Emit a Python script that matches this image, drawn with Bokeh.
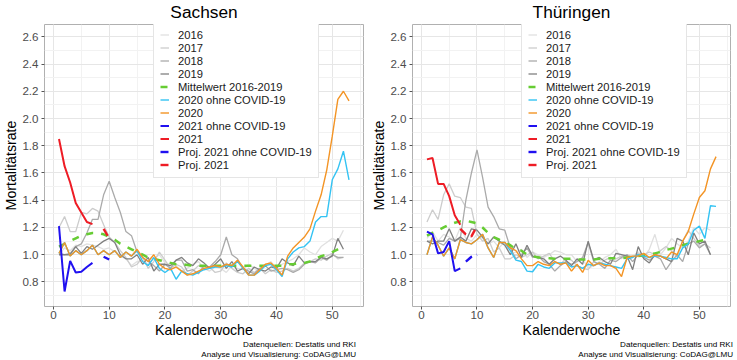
from bokeh.plotting import figure
from bokeh.layouts import row, column
from bokeh.models import (Legend, LegendItem, SingleIntervalTicker, Range1d,
                          PrintfTickFormatter, Div)
from bokeh.embed import file_html
from bokeh.resources import INLINE

weeks52 = list(range(1, 53))
weeks53 = list(range(1, 54))
weeks21 = list(range(1, 8))

# ---------------- Sachsen ----------------
sn_2016 = [1.00, 1.05, 1.03, 1.07, 1.06, 1.08, 1.07, 1.06, 1.04, 1.05,
           1.02, 0.99, 0.97, 0.92, 0.95, 0.96, 0.93, 0.97, 1.00, 0.94,
           0.93, 0.92, 0.88, 0.90, 0.93, 0.95, 0.90, 0.88, 0.91, 0.90,
           0.87, 0.92, 0.90, 0.89, 0.93, 0.90, 0.88, 0.92, 0.95, 0.90,
           0.93, 0.95, 0.97, 1.00, 1.05, 1.02, 1.00, 1.06, 1.09, 1.12,
           1.10, 1.18]
sn_2017 = [1.20, 1.28, 1.17, 1.17, 1.31, 1.30, 1.34, 1.32, 1.22, 1.13,
           1.09, 1.03, 0.98, 0.91, 0.93, 0.98, 0.90, 0.95, 1.02, 0.96,
           0.90, 0.93, 0.91, 0.85, 0.88, 0.92, 0.90, 0.91, 0.87, 0.88,
           0.94, 0.90, 0.87, 0.86, 0.90, 0.87, 0.90, 0.86, 0.89, 0.87,
           0.88, 0.90, 0.88, 0.90, 0.94, 0.95, 0.97, 0.96, 0.99, 1.01,
           0.97, 0.98]
sn_2018 = [1.01, 1.00, 1.01, 1.06, 1.08, 1.16, 1.26, 1.26, 1.44, 1.54,
           1.42, 1.31, 1.17, 1.14, 1.02, 0.98, 0.95, 0.92, 0.88, 0.93,
           0.90, 0.96, 0.96, 0.88, 0.89, 0.86, 0.92, 0.91, 0.95, 1.00,
           1.13, 1.00, 0.97, 0.90, 0.88, 0.86, 0.90, 0.92, 0.88, 0.89,
           0.90, 0.89, 0.87, 0.89, 0.93, 0.95, 0.94, 0.98, 0.96, 1.00,
           0.98, 0.98]
sn_2019 = [1.00, 1.00, 1.00, 1.06, 1.01, 1.06, 1.04, 1.07, 1.10, 1.12,
           1.09, 1.00, 0.97, 0.97, 1.00, 0.93, 0.98, 0.88, 0.93, 0.93,
           0.92, 0.96, 0.98, 0.94, 0.92, 0.97, 0.94, 0.90, 0.93, 0.97,
           0.90, 0.95, 0.88, 0.90, 0.86, 0.91, 0.89, 0.88, 0.91, 0.90,
           0.97, 0.94, 0.92, 0.99, 0.94, 0.95, 0.95, 0.98, 0.97, 0.99,
           1.12, 1.04]
sn_mean = [1.06, 1.08, 1.10, 1.12, 1.14, 1.15, 1.16, 1.16, 1.15, 1.13,
           1.11, 1.08, 1.06, 1.04, 1.02, 1.00, 0.98, 0.97, 0.96, 0.95,
           0.94, 0.93, 0.93, 0.925, 0.92, 0.92, 0.92, 0.92, 0.92, 0.92,
           0.92, 0.92, 0.92, 0.92, 0.92, 0.92, 0.92, 0.92, 0.92, 0.92,
           0.92, 0.93, 0.93, 0.94, 0.94, 0.95, 0.97, 0.99, 1.00, 1.02,
           1.04, 1.06]
sn_2020_ohne = [1.01, 1.09, 0.99, 1.03, 1.00, 1.03, 1.07, 1.00, 1.03, 1.00,
                1.03, 0.98, 1.02, 0.99, 1.03, 0.95, 0.92, 0.98, 0.90, 0.87,
                0.90, 0.82, 0.88, 0.86, 0.85, 0.87, 0.89, 0.90, 0.91, 0.91,
                0.92, 0.91, 0.95, 0.90, 0.85, 0.85, 0.88, 0.92, 0.93, 0.89,
                0.84, 0.97, 1.02, 1.05, 1.06, 1.10, 1.24, 1.28, 1.28, 1.55,
                1.63, 1.76, 1.55]
sn_2020 = [1.01, 1.09, 0.99, 1.03, 1.00, 1.03, 1.07, 1.00, 1.03, 1.00,
           1.03, 0.98, 1.02, 0.99, 1.04, 0.98, 0.95, 1.00, 0.93, 0.90,
           0.89, 0.91, 0.88, 0.85, 0.86, 0.88, 0.90, 0.91, 0.92, 0.91,
           0.93, 0.92, 0.96, 0.91, 0.85, 0.85, 0.89, 0.93, 0.94, 0.90,
           0.85, 0.99, 1.05, 1.09, 1.13, 1.19, 1.32, 1.44, 1.62, 1.87,
           2.14, 2.20, 2.13]
sn_2021_ohne = [1.21, 0.73, 0.955, 0.87, 0.875, 0.91, 0.94]
sn_2021 = [1.85, 1.65, 1.53, 1.38, 1.31, 1.24, 1.225]
sn_proj_weeks = [9, 10]
sn_proj_ohne = [0.985, 0.965]
sn_proj = [1.19, 1.12]

# ---------------- Thüringen ----------------
th_2016 = [1.12, 1.17, 1.10, 1.15, 1.13, 1.10, 1.20, 1.12, 1.10, 1.15,
           1.12, 1.08, 1.10, 1.05, 1.10, 1.00, 1.02, 1.04, 0.98, 1.02,
           1.00, 0.98, 1.00, 1.03, 1.02, 1.00, 1.00, 0.95, 0.97, 0.90,
           0.92, 0.95, 0.98, 1.00, 1.04, 0.97, 1.00, 0.99, 1.02, 0.98,
           1.04, 1.15, 1.00, 1.05, 1.12, 1.08, 1.05, 1.10, 1.20, 1.15,
           1.20, 1.18]
th_2017 = [1.24, 1.33, 1.26, 1.44, 1.52, 1.43, 1.42, 1.35, 1.34, 1.15,
           1.10, 1.12, 1.02, 1.05, 0.97, 0.97, 1.00, 0.98, 1.00, 1.02,
           0.97, 0.99, 1.01, 0.95, 0.93, 0.97, 0.96, 0.92, 0.90, 0.89,
           0.95, 0.93, 0.96, 0.98, 0.97, 0.99, 1.00, 0.98, 1.01, 1.00,
           1.02, 1.00, 1.03, 1.06, 1.03, 0.98, 1.10, 1.18, 1.12, 1.06,
           1.08, 1.05]
th_2018 = [1.10, 1.10, 1.09, 1.07, 1.12, 1.10, 1.12, 1.40, 1.60, 1.77,
           1.57, 1.35, 1.28, 1.19, 1.18, 1.05, 0.97, 1.00, 1.05, 0.98,
           0.99, 0.95, 0.93, 0.88, 0.92, 0.95, 0.93, 0.95, 0.98, 1.09,
           0.95, 0.93, 0.90, 0.96, 0.95, 0.98, 1.00, 0.95, 1.00, 0.98,
           0.96, 0.99, 0.97, 0.89, 0.95, 1.00, 0.95, 1.08, 1.10, 1.05,
           1.08, 1.00]
th_2019 = [1.10, 1.08, 1.10, 1.10, 1.19, 1.10, 1.13, 1.10, 1.19, 1.18,
           1.13, 1.08, 1.13, 1.10, 1.07, 1.00, 1.08, 0.98, 1.07, 0.99,
           0.98, 0.97, 0.93, 0.97, 0.99, 0.96, 0.92, 0.97, 0.93, 1.10,
           0.96, 0.98, 0.95, 0.93, 1.01, 1.00, 0.99, 0.89, 1.06, 0.97,
           0.94, 1.00, 0.99, 0.97, 0.95, 1.12, 1.10, 1.00, 1.16, 1.08,
           1.10, 1.00]
th_mean = [1.14, 1.16, 1.18, 1.20, 1.22, 1.235, 1.245, 1.25, 1.24, 1.23,
           1.20, 1.16, 1.13, 1.11, 1.09, 1.07, 1.04, 1.03, 1.00, 0.99,
           0.98, 0.98, 0.975, 0.97, 0.97, 0.97, 0.97, 0.965, 0.965, 0.965,
           0.965, 0.97, 0.97, 0.975, 0.975, 0.975, 0.98, 0.985, 0.99, 0.995,
           1.00, 1.01, 1.02, 1.035, 1.045, 1.055, 1.07, 1.08, 1.09, 1.10,
           1.11, 1.12]
th_2020_ohne = [1.00, 1.13, 1.07, 0.99, 1.05, 0.97, 1.11, 1.09, 1.08, 1.11,
                1.15, 1.05, 0.98, 1.09, 1.09, 1.03, 0.96, 0.95, 0.88, 0.875,
                0.93, 0.91, 0.90, 0.94, 0.94, 0.94, 0.91, 0.92, 0.90, 0.93,
                0.92, 0.94, 0.93, 0.92, 0.91, 0.90, 0.97, 0.98, 1.00, 0.99,
                0.98, 0.99, 0.99, 0.98, 0.97, 0.97, 1.05, 1.08, 1.18, 1.21,
                1.12, 1.36, 1.355]
th_2020 = [1.00, 1.13, 1.07, 0.99, 1.05, 0.97, 1.11, 1.09, 1.08, 1.11,
           1.15, 1.05, 0.98, 1.09, 1.09, 1.05, 1.03, 0.97, 0.92, 0.92,
           0.95, 0.93, 0.92, 0.95, 0.93, 0.94, 0.88, 0.93, 0.87, 0.96,
           0.92, 0.94, 0.92, 0.92, 0.90, 0.84, 0.98, 0.99, 0.99, 1.01,
           0.98, 1.00, 0.99, 0.97, 1.02, 1.00, 1.10, 1.17, 1.30, 1.42,
           1.47, 1.63, 1.72]
th_2021_ohne = [1.17, 1.15, 1.01, 1.02, 1.10, 0.88, 0.90]
th_2021 = [1.70, 1.71, 1.52, 1.52, 1.43, 1.29, 1.22]
th_proj_ohne_weeks = [8, 9, 10]
th_proj_ohne = [0.95, 0.985, 1.00]
th_proj_weeks = [7, 8, 9, 10]
th_proj = [1.19, 1.15, 1.135, 1.21]

labels = ["2016", "2017", "2018", "2019", "Mittelwert 2016-2019",
          "2020 ohne COVID-19", "2020", "2021 ohne COVID-19", "2021",
          "Proj. 2021 ohne COVID-19", "Proj. 2021"]
colors = ["#E0E0E0", "#CCCCCC", "#AAAAAA", "#808080", "#66CC33",
          "#33C3F3", "#F39425", "#2010F0", "#EE1C25", "#2010F0", "#EE1C25"]
caption = ["Datenquellen: Destatis und RKI",
           "Analyse und Visualisierung: CoDAG@LMU"]

FONT = "Liberation Sans"
FIG_H = 340
TOP = 24
BOTTOM = 33
FRAME_H = FIG_H - TOP - BOTTOM
ITEM_H = 13
LEG_PAD = 6
LEG_H = 2 * LEG_PAD + len(labels) * ITEM_H


def make_panel(title, series, width, bl, br):
    p = figure(width=width, height=FIG_H, output_backend="svg", toolbar_location=None,
               x_range=Range1d(-1.6, 55.6), y_range=Range1d(0.62, 2.69),
               min_border_left=bl, min_border_right=br, min_border_top=TOP,
               min_border_bottom=BOTTOM,
               background_fill_color="white", border_fill_color="white")
    p.title.text = title
    p.title.align = "center"
    p.title.vertical_align = "top"
    p.title.text_font = FONT
    p.title.text_font_size = "17.3px"
    p.title.text_font_style = "normal"
    p.title.text_color = "black"
    p.title.standoff = 1

    p.outline_line_color = "#B0B0B0"
    p.outline_line_width = 1

    p.xaxis.ticker = SingleIntervalTicker(interval=10, num_minor_ticks=2)
    p.yaxis.ticker = SingleIntervalTicker(interval=0.2, num_minor_ticks=2)
    p.yaxis.formatter = PrintfTickFormatter(format="%.1f")
    for ax in (p.xaxis[0], p.yaxis[0]):
        ax.axis_line_color = None
        ax.major_tick_line_color = "#555555"
        ax.major_tick_out = 3
        ax.major_tick_in = 0
        ax.minor_tick_line_color = None
        ax.major_label_text_font = FONT
        ax.major_label_text_font_size = "11.6px"
        ax.major_label_text_color = "#4D4D4D"
        ax.axis_label_text_font = FONT
        ax.axis_label_text_font_size = "14.2px"
        ax.axis_label_text_font_style = "normal"
        ax.axis_label_text_color = "black"
        ax.axis_label_standoff = 0
    p.xaxis.major_label_standoff = 0
    p.yaxis.major_label_standoff = 2
    p.xaxis.axis_label = "Kalenderwoche"
    p.yaxis.axis_label = "Mortalitätsrate"

    p.grid.grid_line_color = "#E6E6E6"
    p.grid.grid_line_width = 1
    p.grid.minor_grid_line_color = "#F2F2F2"
    p.grid.minor_grid_line_width = 1

    items = []
    for lab, col, (xs, ys, lw, dash) in zip(labels, colors, series):
        r = p.line(xs, ys, line_color=col, line_width=lw, line_dash=dash)
        items.append(LegendItem(label=lab, renderers=[r]))

    leg = Legend(items=items, location=(109, FRAME_H - LEG_H),
                 label_text_font=FONT, label_text_font_size="11.2px",
                 label_text_color="#1A1A1A",
                 glyph_width=9, glyph_height=ITEM_H, label_height=ITEM_H,
                 label_standoff=9, spacing=0, padding=LEG_PAD, margin=0,
                 border_line_color="#CCCCCC", border_line_width=1,
                 background_fill_color="white", background_fill_alpha=1.0)
    p.add_layout(leg)
    return p


def make_caption(width, pad_right):
    html = ('<div style="text-align:right; font-family:\'Liberation Sans\'; '
            'font-size:8.1px; line-height:10px; color:#000; '
            'padding-right:%dpx; width:%dpx;">%s<br>%s</div>'
            % (pad_right, width - pad_right, caption[0], caption[1]))
    return Div(text=html, width=width, height=360 - FIG_H, margin=0)


sn_series = [
    (weeks52, sn_2016, 1.3, "solid"),
    (weeks52, sn_2017, 1.3, "solid"),
    (weeks52, sn_2018, 1.3, "solid"),
    (weeks52, sn_2019, 1.3, "solid"),
    (weeks52, sn_mean, 2.5, "7 8"),
    (weeks53, sn_2020_ohne, 1.4, "solid"),
    (weeks53, sn_2020, 1.4, "solid"),
    (weeks21, sn_2021_ohne, 2.0, "solid"),
    (weeks21, sn_2021, 2.0, "solid"),
    (sn_proj_weeks, sn_proj_ohne, 2.4, "8 5"),
    (sn_proj_weeks, sn_proj, 2.4, "8 5"),
]
th_series = [
    (weeks52, th_2016, 1.3, "solid"),
    (weeks52, th_2017, 1.3, "solid"),
    (weeks52, th_2018, 1.3, "solid"),
    (weeks52, th_2019, 1.3, "solid"),
    (weeks52, th_mean, 2.5, "7 8"),
    (weeks53, th_2020_ohne, 1.4, "solid"),
    (weeks53, th_2020, 1.4, "solid"),
    (weeks21, th_2021_ohne, 2.0, "solid"),
    (weeks21, th_2021, 2.0, "solid"),
    (th_proj_ohne_weeks, th_proj_ohne, 2.4, "8 5"),
    (th_proj_weeks, th_proj, 2.4, "8 5"),
]

p1 = make_panel("Sachsen", sn_series, 368, 39, 5)
p2 = make_panel("Thüringen", th_series, 369, 44, 7)
c1 = make_caption(368, 6)
c2 = make_caption(369, 2)

layout = column(row(p1, p2), row(c1, c2))
open("out.html", "w").write(file_html(layout, INLINE))
